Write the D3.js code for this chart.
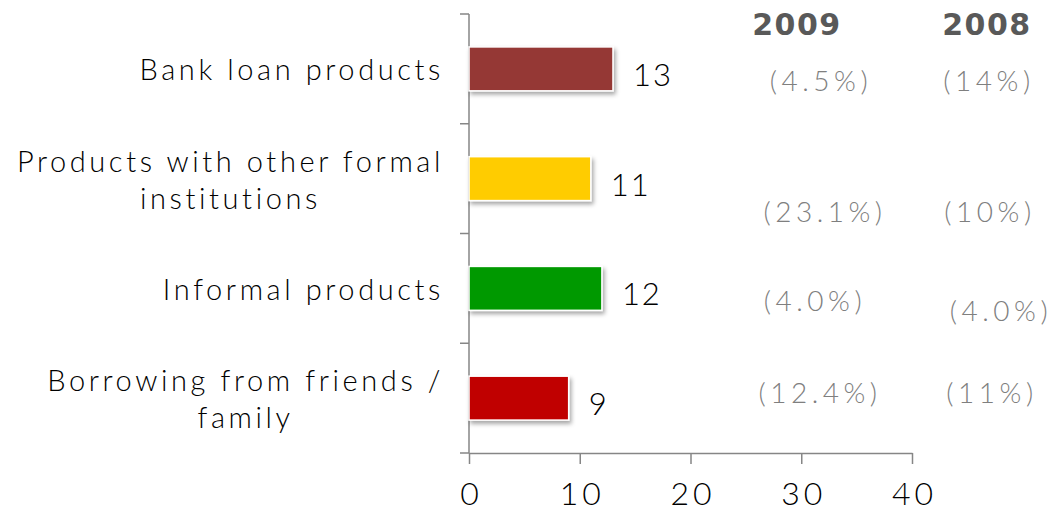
<!DOCTYPE html>
<html>
<head>
<meta charset="utf-8">
<script src="https://cdn.jsdelivr.net/npm/d3@7/dist/d3.min.js"></script>
<style>
  html, body { margin: 0; padding: 0; background: #fff; }
  svg { display: block; }
  .cat, .val, .tick-lbl, .pct { font-family: "Lato", "DejaVu Sans", sans-serif; font-weight: 300; }
  .yr { font-family: "DejaVu Sans", sans-serif; font-weight: bold; }
</style>
</head>
<body>
<svg id="chart" width="1054" height="514"></svg>
<script>
// Loan product categories, top to bottom
const categories = [
  ["Bank loan products"],
  ["Products with other formal", "institutions"],
  ["Informal products"],
  ["Borrowing from friends /", "family"]
];
const values = [13, 11, 12, 9];
const barColors = ["#953735", "#FFCC00", "#009900", "#C00000"];
const years = ["2009", "2008"];
const pct2009 = ["(4.5%)", "(23.1%)", "(4.0%)", "(12.4%)"];
const pct2008 = ["(14%)", "(10%)", "(4.0%)", "(11%)"];
const xTicks = [0, 10, 20, 30, 40];

const svg = d3.select("#chart");
const plotL = 469, plotR = 912, plotT = 14, plotB = 453;

const x = d3.scaleLinear().domain([0, 40]).range([plotL, plotR]);
const y = d3.scaleBand().domain(d3.range(categories.length)).range([plotT, plotB]).paddingInner(0.6).paddingOuter(0.3);
const yEdge = d3.scaleLinear().domain([0, categories.length]).range([plotT, plotB]);

// drop shadow under the bars
const defs = svg.append("defs");
const f = defs.append("filter").attr("id", "shadow").attr("x", "-10%").attr("y", "-20%").attr("width", "130%").attr("height", "160%");
f.append("feDropShadow").attr("dx", 2).attr("dy", 3).attr("stdDeviation", 2).attr("flood-color", "#000").attr("flood-opacity", 0.35);

const axisColor = "#868686";

// vertical axis with ticks at category boundaries
svg.append("line").attr("x1", plotL).attr("x2", plotL).attr("y1", plotT).attr("y2", plotB)
  .attr("stroke", axisColor).attr("stroke-width", 1.5);
svg.selectAll(".ytick").data(d3.range(categories.length + 1)).join("line")
  .attr("x1", plotL - 9).attr("x2", plotL).attr("y1", d => yEdge(d)).attr("y2", d => yEdge(d))
  .attr("stroke", axisColor).attr("stroke-width", 1.5);

// horizontal axis
const xAxis = svg.append("g").attr("transform", `translate(0,${plotB})`)
  .call(d3.axisBottom(x).tickValues(xTicks).tickSize(11).tickSizeOuter(0).tickFormat(d3.format("d")));
xAxis.select(".domain").attr("stroke", axisColor).attr("stroke-width", 1.5);
xAxis.selectAll(".tick line").attr("stroke", axisColor).attr("stroke-width", 1.5);
xAxis.selectAll(".tick text").attr("class", "tick-lbl").attr("fill", "#000")
  .attr("font-size", 32).attr("dy", "1.2em").attr("letter-spacing", 4).attr("dx", 2);

// bars
svg.selectAll(".bar").data(values).join("rect")
  .attr("x", x(0)).attr("y", (d, i) => y(i))
  .attr("width", d => x(d) - x(0)).attr("height", y.bandwidth())
  .attr("fill", (d, i) => barColors[i])
  .attr("stroke", "#fff").attr("stroke-width", 1.5)
  .attr("filter", "url(#shadow)");

// value labels
svg.selectAll(".val").data(values).join("text").attr("class", "val")
  .attr("x", d => x(d) + 20).attr("y", (d, i) => y(i) + y.bandwidth() / 2 + 5)
  .attr("dominant-baseline", "central").attr("font-size", 31).attr("letter-spacing", 2)
  .attr("fill", "#000").text(d => d);

// category labels, centred lines right-aligned against the axis
const cg = svg.selectAll(".catg").data(categories).join("text").attr("class", "cat")
  .attr("font-size", 29).attr("fill", "#000").attr("letter-spacing", 3.6).attr("text-anchor", "middle");
cg.each(function (lines, i) {
  const t = d3.select(this);
  const lh = 37;
  const cy = y(i) + y.bandwidth() / 2;
  lines.forEach((ln, k) => {
    t.append("tspan").attr("y", cy + (k - (lines.length - 1) / 2) * lh).attr("dominant-baseline", "central").text(ln);
  });
  // width of the widest line sets the block's centre
  const w = d3.max(t.selectAll("tspan").nodes(), n => n.getComputedTextLength());
  t.selectAll("tspan").attr("x", plotL - 25 - w / 2);
});

// year headers and growth figures
const colX = [820, 990];
const headX = [797, 987];
svg.selectAll(".yr").data(years).join("text").attr("class", "yr")
  .attr("x", (d, i) => headX[i]).attr("y", 24)
  .attr("dominant-baseline", "central").attr("text-anchor", "middle")
  .attr("font-size", 30).attr("letter-spacing", 1.5).attr("fill", "#595959").text(d => d);

// hand-placed offsets for each figure relative to its row centre
const nudge2009 = [{dx: 1, dy: 11}, {dx: 5, dy: 32}, {dx: -5, dy: 12}, {dx: 0, dy: -6}];
const nudge2008 = [{dx: -1, dy: 11}, {dx: 0, dy: 32}, {dx: 11, dy: 22}, {dx: 2, dy: -6}];
[pct2009, pct2008].forEach((col, c) => {
  const nudge = c === 0 ? nudge2009 : nudge2008;
  svg.selectAll(".pct" + c).data(col).join("text").attr("class", "pct")
    .attr("x", (d, i) => colX[c] + nudge[i].dx)
    .attr("y", (d, i) => y(i) + y.bandwidth() / 2 + nudge[i].dy)
    .attr("dominant-baseline", "central").attr("text-anchor", "middle")
    .attr("font-size", 28).attr("letter-spacing", 4.5).attr("fill", "#7f7f7f").text(d => d);
});
</script>
</body>
</html>
